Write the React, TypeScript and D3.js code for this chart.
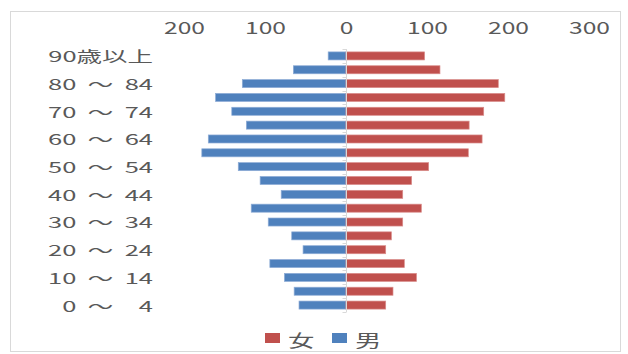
import { useEffect, useRef } from "react";
import * as d3 from "d3";

// age groups, top to bottom
const ages = [
  "90歳以上", "85 ～ 89", "80 ～ 84", "75 ～ 79", "70 ～ 74", "65 ～ 69",
  "60 ～ 64", "55 ～ 59", "50 ～ 54", "45 ～ 49", "40 ～ 44", "35 ～ 39",
  "30 ～ 34", "25 ～ 29", "20 ～ 24", "15 ～ 19", "10 ～ 14", "5 ～ 9", "0 ～ 4",
];
const male = [22, 65, 128, 161, 141, 123, 170, 178, 133, 106, 80, 117, 96, 67, 53, 94, 76, 64, 58];
const female = [97, 116, 188, 196, 170, 152, 168, 151, 102, 81, 70, 93, 70, 56, 49, 72, 87, 58, 49];
const xTicks = [-200, -100, 0, 100, 200, 300];

const W = 628;
const H = 354;
const BLUE = "#4F81BD";
const RED = "#C0504D";
const TXT = "#595959";
const FONT = "'Noto Sans CJK JP', 'Noto Sans', sans-serif";
const STRETCH = 1.45; // reference text is squashed wide
const LABEL_STRETCH = 1.7;

export default function App() {
  const ref = useRef<SVGSVGElement>(null);

  useEffect(() => {
    if (!ref.current) return;
    const svg = d3.select(ref.current);
    svg.selectAll("*").remove();

    // chart frame
    svg.append("rect")
      .attr("x", 10.5).attr("y", 11.5)
      .attr("width", 610).attr("height", 340)
      .attr("fill", "#fff").attr("stroke", "#d9d9d9");

    const x = d3.scaleLinear().domain([-200, 300]).range([184, 589]);
    const y = d3.scaleBand<string>().domain(ages).range([49, 312]).paddingInner(0.42).paddingOuter(0.21);

    // ── top axis ─────────────────────────────────────────────
    svg.append("g")
      .attr("transform", "translate(0,34)")
      .call(d3.axisTop(x).tickValues(xTicks).tickSize(0).tickPadding(0)
        .tickFormat((v) => String(Math.abs(Number(v)))))
      .call((g) => g.select(".domain").remove())
      .call((g) => g.selectAll(".tick text")
        .attr("fill", TXT).attr("font-size", 17).attr("font-family", FONT)
        .attr("transform", `scale(${STRETCH},1)`));

    // ── bars ────────────────────────────────────────────────
    svg.append("g").selectAll("rect")
      .data(ages)
      .join("rect")
      .attr("x", (_, i) => x(-male[i]))
      .attr("y", (d) => y(d)!)
      .attr("width", (_, i) => x(0) - x(-male[i]))
      .attr("height", y.bandwidth())
      .attr("fill", BLUE)
      .attr("stroke", "#8eacd6").attr("stroke-width", 0.7);

    svg.append("g").selectAll("rect")
      .data(ages)
      .join("rect")
      .attr("x", x(0))
      .attr("y", (d) => y(d)!)
      .attr("width", (_, i) => x(female[i]) - x(0))
      .attr("height", y.bandwidth())
      .attr("fill", RED)
      .attr("stroke", "#d98c8a").attr("stroke-width", 0.7);

    // ── zero axis with small ticks ──────────────────────────
    const x0 = Math.round(x(0)) + 0.5;
    svg.append("line")
      .attr("x1", x0).attr("x2", x0)
      .attr("y1", 49).attr("y2", 312)
      .attr("stroke", "#d9d9d9");
    const bounds = d3.range(ages.length + 1).map((i) => 49 + i * y.step());
    svg.append("g").selectAll("line")
      .data(bounds)
      .join("line")
      .attr("x1", x0 - 4).attr("x2", x0)
      .attr("y1", (d) => Math.round(d) + 0.5).attr("y2", (d) => Math.round(d) + 0.5)
      .attr("stroke", "#d9d9d9");

    // ── category labels (every other) ───────────────────────
    svg.append("g").selectAll("text")
      .data(ages.filter((_, i) => i % 2 === 0))
      .join("text")
      .attr("transform", (d) => `translate(153,${y(d)! + y.bandwidth() / 2}) scale(${LABEL_STRETCH},1)`)
      .attr("text-anchor", "end")
      .attr("dominant-baseline", "central")
      .attr("fill", TXT).attr("font-size", 15).attr("font-family", FONT)
      .style("white-space", "pre")
      .text((d) => d.replace(/^(\d) /, "\u2007$1 ").replace(/ (\d)$/, " \u2007$1").replace(/ ～ /, "  ～  "));

    // ── legend ──────────────────────────────────────────────
    const legend = [
      { label: "女", color: RED, x: 265 },
      { label: "男", color: BLUE, x: 332 },
    ];
    const lg = svg.append("g").selectAll("g").data(legend).join("g")
      .attr("transform", (d) => `translate(${d.x},338)`);
    lg.append("rect")
      .attr("x", 0).attr("y", -5).attr("width", 15).attr("height", 10)
      .attr("fill", (d) => d.color);
    lg.append("text")
      .attr("transform", `translate(23,1) scale(1.55,1)`)
      .attr("dominant-baseline", "central")
      .attr("fill", TXT).attr("font-size", 17).attr("font-family", FONT)
      .text((d) => d.label);
  }, []);

  return (
    <svg
      ref={ref}
      width={W}
      height={H}
      style={{ position: "absolute", left: 0, top: 0, display: "block" }}
    />
  );
}
